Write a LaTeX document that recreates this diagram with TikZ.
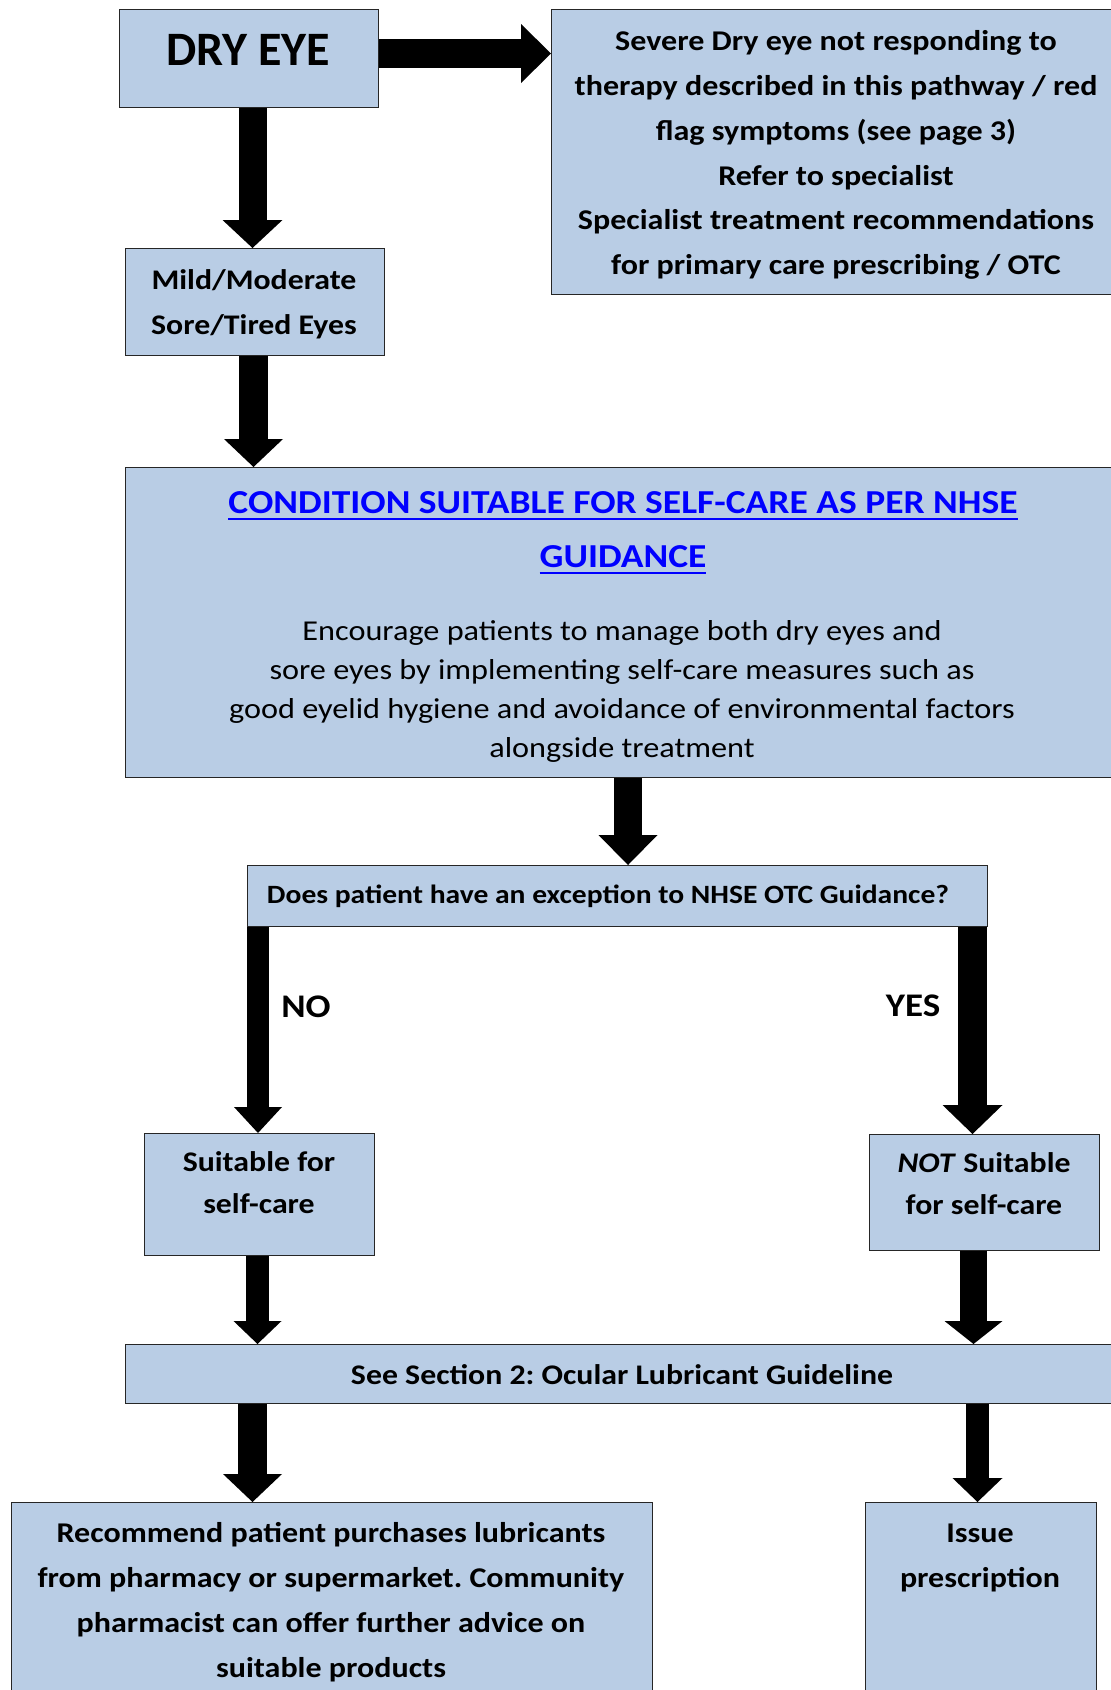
\documentclass[tikz,border=0pt]{standalone}
\usepackage{fontspec}
\setmainfont{Carlito}[FakeStretch=1.12]
\newfontfamily\plainfont{Carlito}
\usetikzlibrary{arrows.meta}
\definecolor{boxfill}{HTML}{B9CDE5}
\definecolor{linkblue}{HTML}{0000FF}
\newlength\ulwd
\newcommand\thickul[1]{\settowidth\ulwd{#1}\rlap{\rule[-7pt]{\ulwd}{2.7pt}}#1}
\frenchspacing
\begin{document}
\begin{tikzpicture}[x=1pt,y=-1pt,
  box/.style={draw=black!85, line width=1.3pt, fill=boxfill, rectangle, anchor=north west, inner sep=0pt},
  txt/.style={align=center, inner sep=0pt, font=\bfseries\fontsize{28.6}{45}\selectfont},
  blk/.style args={#1/#2/#3}{draw=black, line width=#1, -{Triangle[length=#3, width=#2, line width=0pt]}},
]
\useasboundingbox (0,0) rectangle (1111,1690);

% boxes
\node[box, minimum width=259pt, minimum height=98pt] (dry) at (119,9) {};
\node[box, minimum width=620pt, minimum height=285pt] (sev) at (551,9) {};
\node[box, minimum width=259pt, minimum height=107pt] (mild) at (125,248) {};
\node[box, minimum width=1000pt, minimum height=310pt] (cond) at (125,467) {};
\node[box, minimum width=740pt, minimum height=61pt] (exc) at (247,865) {};
\node[box, minimum width=230pt, minimum height=122pt] (suit) at (144,1133) {};
\node[box, minimum width=230pt, minimum height=116pt] (notsuit) at (869,1134) {};
\node[box, minimum width=1000pt, minimum height=59pt] (see) at (125,1344) {};
\node[box, minimum width=641pt, minimum height=250pt] (rec) at (11,1502) {};
\node[box, minimum width=231pt, minimum height=250pt] (iss) at (865,1502) {};

% texts
\node[txt, font=\plainfont\bfseries\fontsize{48}{50}\selectfont] (tdry) at (248,50) {DRY EYE};
\node[txt, font=\bfseries\fontsize{28.6}{44.8}\selectfont] (tsev) at (836,155)
  {Severe Dry eye not responding to\\therapy described in this pathway / red\\flag symptoms (see page 3)\\Refer to specialist\\Specialist treatment recommendations\\for primary care prescribing / OTC};
\node[txt, font=\bfseries\fontsize{28.4}{45}\selectfont] (tmild) at (254,304) {Mild/Moderate\\Sore/Tired Eyes};
\node[txt, font=\bfseries\fontsize{33.5}{54}\selectfont, text=linkblue] (tcond) at (623,533)
  {\thickul{CONDITION SUITABLE FOR SELF-CARE AS PER NHSE}\\\thickul{GUIDANCE}};
\node[txt, font=\fontsize{28.8}{39}\selectfont] (tbody) at (622,691)
  {Encourage patients to manage both dry eyes and\\sore eyes by implementing self-care measures such as\\good eyelid hygiene and avoidance of environmental factors\\alongside treatment};
\node[txt, font=\bfseries\fontsize{26.4}{30}\selectfont] (texc) at (608,896) {Does patient have an exception to NHSE OTC Guidance?};
\node[txt, font=\bfseries\fontsize{33}{35}\selectfont] (tno) at (306,1007) {NO};
\node[txt, font=\bfseries\fontsize{33}{35}\selectfont] (tyes) at (913,1006) {YES};
\node[txt, font=\bfseries\fontsize{28.4}{42}\selectfont] (tsuit) at (259,1183) {Suitable for\\self-care};
\node[txt, font=\bfseries\fontsize{28.4}{42}\selectfont] (tnot) at (984,1184) {\textit{NOT} Suitable\\for self-care};
\node[txt, font=\bfseries\fontsize{28.4}{35}\selectfont] (tsee) at (622,1375) {See Section 2: Ocular Lubricant Guideline};
\node[txt] (trec) at (331,1602) {Recommend patient purchases lubricants\\from pharmacy or supermarket. Community\\pharmacist can offer further advice on\\suitable products};
\node[txt] (tiss) at (980,1558) {Issue\\prescription};

% block arrows
\draw[blk=29pt/59pt/30pt] (dry.east |- 0,53.5) -- (sev.west |- 0,53.5);
\draw[blk=28pt/60pt/28pt] (dry.south -| 252.5,0) -- (mild.north -| 252.5,0);
\draw[blk=29pt/59pt/28pt] (mild.south -| 253.5,0) -- (cond.north -| 253.5,0);
\draw[blk=28pt/59pt/30pt] (cond.south -| 628,0) -- (exc.north -| 628,0);
\draw[blk=22pt/48pt/26pt] (exc.south -| 258,0) -- (suit.north -| 258,0);
\draw[blk=29pt/60pt/29pt] (exc.south -| 972.5,0) -- (notsuit.north -| 972.5,0);
\draw[blk=23pt/48pt/23pt] (suit.south -| 257.5,0) -- (see.north -| 257.5,0);
\draw[blk=27pt/58pt/23pt] (notsuit.south -| 973.5,0) -- (see.north -| 973.5,0);
\draw[blk=29pt/59pt/28pt] (see.south -| 252.5,0) -- (rec.north -| 252.5,0);
\draw[blk=23pt/50pt/24pt] (see.south -| 977.5,0) -- (iss.north -| 977.5,0);
\end{tikzpicture}
\end{document}
